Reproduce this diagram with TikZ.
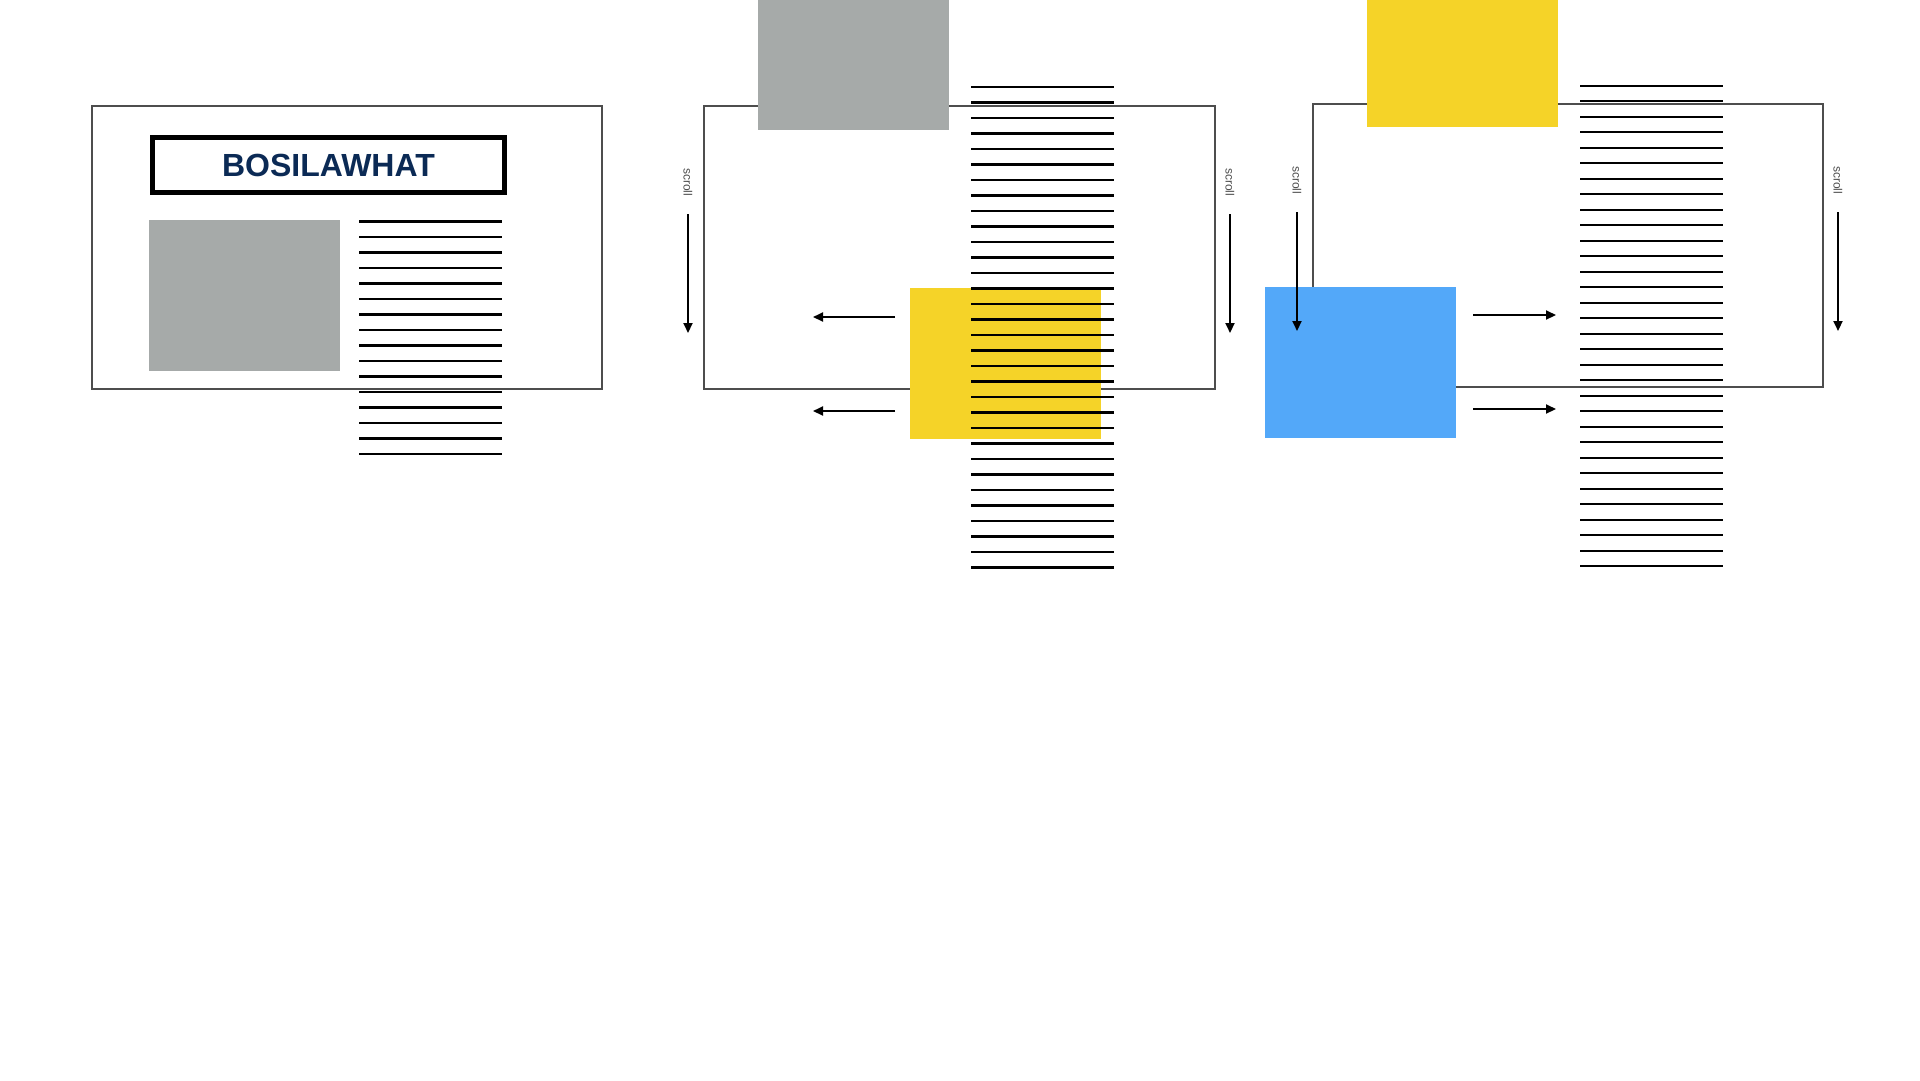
\documentclass[tikz,border=0pt]{standalone}
\usepackage{fontspec}
\setmainfont{Liberation Sans}
\usetikzlibrary{arrows.meta}

\definecolor{boxgray}{HTML}{A6AAA9}
\definecolor{boxyellow}{HTML}{F5D328}
\definecolor{boxblue}{HTML}{53A8F9}
\definecolor{titlenavy}{HTML}{0B2A55}
\definecolor{framegray}{HTML}{4D4D4D}

\tikzset{
    frame/.style={draw=framegray, line width=1.3pt},
    block/.style={rectangle, inner sep=0pt, minimum width=191pt, minimum height=151pt, anchor=north west},
    textline/.style={black, line width=2.4pt},
    move/.style={black, line width=2pt, -{Triangle[length=10pt,width=9pt]}},
    scrolltext/.style={rotate=-90, text=framegray, font=\fontsize{12}{12}\selectfont, inner sep=0pt},
}

\begin{document}
\begin{tikzpicture}[x=1pt, y=-1pt, line cap=butt]

\useasboundingbox (0,0) rectangle (1920,1080);

% page one: the whole page in the window
\draw[frame] (92,106) rectangle (602,389);
\node[draw=black, line width=5pt, minimum width=352pt, minimum height=55pt, inner sep=0pt,
      text=titlenavy, font=\fontsize{32}{32}\selectfont\bfseries] (title) at (328.5,165) {BOSILAWHAT};
\node[block, fill=boxgray] (photo) at (149,220) {};
\foreach \k in {0,...,15} {
    \draw[textline] (359,221.6+15.5*\k) -- (502,221.6+15.5*\k);
}

% page two: scrolled down, the ad comes in from the right
\draw[frame] (704,106) rectangle (1215,389);
\node[block, fill=boxgray] (photoup) at (758,-21) {};
\node[block, fill=boxyellow] (adleft) at (910,288) {};
\foreach \k in {0,...,31} {
    \draw[textline] (971,86.9+15.5*\k) -- (1114,86.9+15.5*\k);
}

\coordinate (inA) at (895,317);
\coordinate (outA) at (813,317);
\coordinate (inB) at (895,411);
\coordinate (outB) at (813,411);
\draw[move] (inA) -- (outA);
\draw[move] (inB) -- (outB);

\node[scrolltext] (scrollA) at (688,182) {scroll};
\coordinate (scrollAtop) at (688,214);
\coordinate (scrollAend) at (688,333);
\draw[move] (scrollAtop) -- (scrollAend);

\node[scrolltext] (scrollB) at (1230,182) {scroll};
\coordinate (scrollBtop) at (1230,214);
\coordinate (scrollBend) at (1230,333);
\draw[move] (scrollBtop) -- (scrollBend);

% page three: the text moves right, the blue ad comes in
\draw[frame] (1313,104) rectangle (1823,387);
\node[block, fill=boxyellow] (adup) at (1367,-24) {};
\foreach \k in {0,...,31} {
    \draw[textline] (1580,85.7+15.5*\k) -- (1723,85.7+15.5*\k);
}
\node[block, fill=boxblue] (adblue) at (1265,287) {};

\coordinate (inC) at (1473,315);
\coordinate (outC) at (1556,315);
\coordinate (inD) at (1473,409);
\coordinate (outD) at (1556,409);
\draw[move] (inC) -- (outC);
\draw[move] (inD) -- (outD);

\node[scrolltext] (scrollC) at (1297,180) {scroll};
\coordinate (scrollCtop) at (1297,212);
\coordinate (scrollCend) at (1297,331);
\draw[move] (scrollCtop) -- (scrollCend);

\node[scrolltext] (scrollD) at (1838,180) {scroll};
\coordinate (scrollDtop) at (1838,212);
\coordinate (scrollDend) at (1838,331);
\draw[move] (scrollDtop) -- (scrollDend);

\end{tikzpicture}
\end{document}
